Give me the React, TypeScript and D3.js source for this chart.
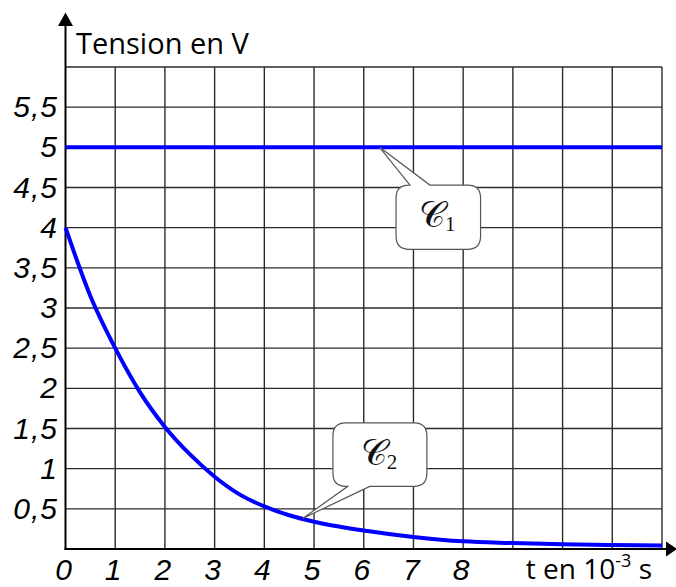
import React from 'react';
import * as d3 from 'd3';

// time axis (10^-3 s) and readings of the two curves
const times = [0, 0.5, 1, 1.5, 2, 2.5, 3, 3.5, 4, 4.5, 5, 5.5, 6, 7, 8, 9, 10, 11, 12];
const tensionC2 = [4, 3.15, 2.5, 1.95, 1.52, 1.18, 0.9, 0.68, 0.53, 0.42, 0.34, 0.28, 0.23, 0.15, 0.095, 0.075, 0.06, 0.05, 0.045];
const timesC1 = [0, 12];
const tensionC1 = [5, 5];

const xTickLabels = ['0', '1', '2', '3', '4', '5', '6', '7', '8'];
const yTickValues = [0.5, 1, 1.5, 2, 2.5, 3, 3.5, 4, 4.5, 5, 5.5];
const yTickLabels = ['0,5', '1', '1,5', '2', '2,5', '3', '3,5', '4', '4,5', '5', '5,5'];

const callouts = [
  { name: '𝒞', sub: '1', tip: [6.32, 5], box: [6.65, 8.35, 4.53, 3.73], base: [6.93, 7.33], side: 'top' },
  { name: '𝒞', sub: '2', tip: [4.77, 0.38], box: [5.38, 7.27, 1.57, 0.78], base: [5.68, 6.12], side: 'bottom' },
];

const W = 676;
const H = 587;

const App: React.FC = () => {
  const x = d3.scaleLinear().domain([0, 12]).range([65.5, 662]);
  const y = d3.scaleLinear().domain([0, 6]).range([549, 67]);

  const line = d3.line<number>()
    .x((_, i) => x(times[i]))
    .y(d => y(d))
    .curve(d3.curveMonotoneX);

  const line1 = d3.line<number>()
    .x((_, i) => x(timesC1[i]))
    .y(d => y(d));

  const gridX = d3.range(1, 13);
  const gridY = d3.range(0.5, 6.01, 0.5);

  const calloutPath = (c: typeof callouts[0]) => {
    const x0 = x(c.box[0]), x1 = x(c.box[1]), y0 = y(c.box[2]), y1 = y(c.box[3]);
    const bx0 = x(c.base[0]), bx1 = x(c.base[1]);
    const tx = x(c.tip[0]), ty = y(c.tip[1]);
    const r = 13;
    const p = d3.path();
    p.moveTo(x0 + r, y0);
    if (c.side === 'top') {
      p.lineTo(bx0, y0); p.lineTo(tx, ty); p.lineTo(bx1, y0);
    }
    p.lineTo(x1 - r, y0);
    p.quadraticCurveTo(x1, y0, x1, y0 + r);
    p.lineTo(x1, y1 - r);
    p.quadraticCurveTo(x1, y1, x1 - r, y1);
    if (c.side === 'bottom') {
      p.lineTo(bx1, y1); p.lineTo(tx, ty); p.lineTo(bx0, y1);
    }
    p.lineTo(x0 + r, y1);
    p.quadraticCurveTo(x0, y1, x0, y1 - r);
    p.lineTo(x0, y0 + r);
    p.quadraticCurveTo(x0, y0, x0 + r, y0);
    p.closePath();
    return p.toString();
  };

  return (
    <svg width={W} height={H} style={{ position: 'absolute', left: 0, top: 0, background: '#fff' }}>
      {/* grid */}
      <g stroke="#2b2b2b" strokeWidth={1.4}>
        {gridX.map(t => (
          <line key={'gx' + t} x1={x(t)} x2={x(t)} y1={y(0)} y2={y(6)} />
        ))}
        {gridY.map(v => (
          <line key={'gy' + v} x1={x(0)} x2={x(12)} y1={y(v)} y2={y(v)} />
        ))}
      </g>

      {/* axes */}
      <g stroke="#000" strokeWidth={2}>
        <line x1={x(0)} x2={x(0)} y1={y(0) + 1} y2={25} />
        <line x1={x(0) - 1} x2={667} y1={y(0)} y2={y(0)} />
      </g>
      <path d={`M${x(0)},12.5 L${x(0) - 7.5},26 L${x(0) + 7.5},26 Z`} fill="#000" />
      <path d={`M677,${y(0)} L666,${y(0) - 7.5} L666,${y(0) + 7.5} Z`} fill="#000" />

      {/* curves */}
      <path d={line1(tensionC1) || ''} fill="none" stroke="#0000ff" strokeWidth={4} />
      <path d={line(tensionC2) || ''} fill="none" stroke="#0000ff" strokeWidth={4} />

      {/* callouts */}
      {callouts.map(c => {
        const cx = (x(c.box[0]) + x(c.box[1])) / 2;
        const cy = (y(c.box[2]) + y(c.box[3])) / 2;
        return (
          <g key={c.sub}>
            <path d={calloutPath(c)} fill="#fff" stroke="#555" strokeWidth={1.2} />
            <text x={cx - 1} y={cy + 10} textAnchor="middle" fontFamily="DejaVu Serif, serif" fontSize={36} fill="#111">
              {c.name}
              <tspan fontFamily="Liberation Serif, serif" fontSize={21} dy={4}>{c.sub}</tspan>
            </text>
          </g>
        );
      })}

      {/* tick labels */}
      <g fontFamily="Liberation Sans, Arial, sans-serif" fontStyle="italic" fontSize={30} fill="#000">
        {yTickValues.map((v, i) => (
          <text key={'yl' + v} x={58} y={y(v) + 10} textAnchor="end" letterSpacing={1}>{yTickLabels[i]}</text>
        ))}
        {xTickLabels.map((l, i) => (
          <text key={'xl' + l} x={x(i) - 2} y={580} textAnchor="middle">{l}</text>
        ))}
      </g>

      {/* axis titles */}
      <text x={76} y={54} fontFamily="Open Sans, sans-serif" fontSize={29} fill="#000">Tension en V</text>
      <text x={652} y={579} textAnchor="end" fontFamily="Open Sans, sans-serif" fontSize={28} fill="#000">
        t en 10<tspan fontSize={18} dy={-12}>-3</tspan><tspan dy={12}> s</tspan>
      </text>
    </svg>
  );
};

export default App;
